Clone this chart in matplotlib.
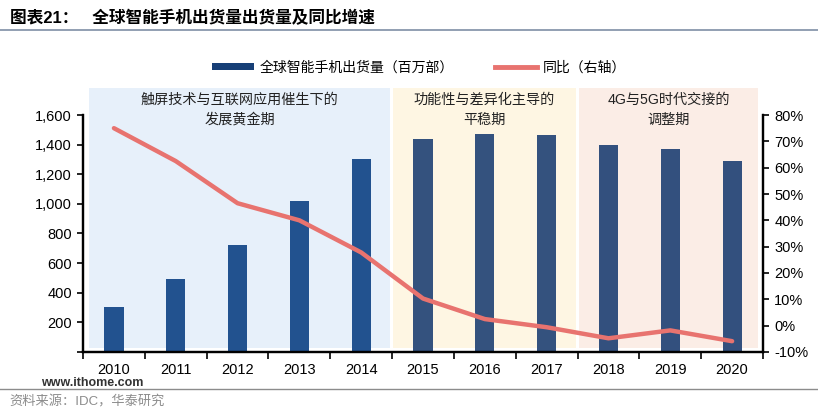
import matplotlib.pyplot as plt
from matplotlib.patches import Rectangle
from matplotlib.lines import Line2D
from matplotlib.ticker import FuncFormatter, MultipleLocator

plt.rcParams["font.family"] = ["Liberation Sans", "Noto Sans CJK SC", "DejaVu Sans"]

years = ["2010", "2011", "2012", "2013", "2014", "2015", "2016", "2017", "2018", "2019", "2020"]
shipments = [305, 494, 725, 1019, 1301, 1437, 1473, 1465, 1395, 1371, 1292]
yoy = [75.0, 62.5, 46.5, 40.0, 27.8, 10.3, 2.5, -0.6, -4.8, -1.8, -5.9]

# stage labels: (first index, last index, text, background, bar colour)
stages = [
    (0, 4, "触屏技术与互联网应用催生下的\n发展黄金期", "#E7F0FA", "#22528F"),
    (5, 7, "功能性与差异化主导的\n平稳期", "#FEF6E3", "#34527E"),
    (8, 10, "4G与5G时代交接的\n调整期", "#FBEDE6", "#33507E"),
]

bar_label = "全球智能手机出货量（百万部）"
line_label = "同比（右轴）"
title = "图表21：   全球智能手机出货量出货量及同比增速"
source = "资料来源：IDC，华泰研究"

fig = plt.figure(figsize=(8.18, 4.09), dpi=100)
ax = fig.add_axes([0.1015, 0.1394, 0.8313, 0.5794])
ax2 = ax.twinx()
ax.set_zorder(ax2.get_zorder() - 1)
ax.patch.set_visible(False)

x = list(range(len(years)))
bar_colors = []
for start, end, _, _, color in stages:
    bar_colors += [color] * (end - start + 1)

# background bands (extend above the plot area)
for start, end, text, bg, _ in stages:
    left = start - 0.41 if start == 0 else start - 0.48
    right = end + 0.47 if end < len(years) - 1 else end + 0.42
    ax.add_patch(Rectangle((left, 25), right - left, 1760, facecolor=bg,
                           edgecolor="none", clip_on=False, zorder=0))
    ax.text((left + right) / 2, 1748, text, ha="center", va="top", fontsize=10.2,
            linespacing=1.5, color="#222222", zorder=1, clip_on=False)

ax.bar(x, shipments, width=0.31, color=bar_colors, zorder=2)
ax2.plot(x, yoy, color="#E8736F", lw=3.2, solid_capstyle="round", zorder=3)

ax.set_xlim(-0.5, len(years) - 0.5)
ax.set_ylim(0, 1600)
ax.yaxis.set_major_locator(MultipleLocator(200))
ax.yaxis.set_major_formatter(FuncFormatter(lambda v, p: f"{int(v):,}" if v > 0 else ""))
ax2.set_ylim(-10, 80)
ax2.yaxis.set_major_locator(MultipleLocator(10))
ax2.yaxis.set_major_formatter(FuncFormatter(lambda v, p: f"{int(round(v))}%"))

ax.set_xticks(x)
ax.set_xticklabels(years)
ax.set_xticks([i - 0.5 for i in range(len(years) + 1)], minor=True)
ax.tick_params(axis="x", which="major", length=0, pad=8, labelsize=10.5)
ax.tick_params(axis="x", which="minor", length=5, width=1.2, direction="out")
ax.tick_params(axis="y", length=4, width=1.2, labelsize=10.5, pad=4)
ax2.tick_params(axis="y", length=4, width=1.2, labelsize=10.5, pad=4)

for a in (ax, ax2):
    a.spines["top"].set_visible(False)
    for s in ("left", "right", "bottom"):
        a.spines[s].set_linewidth(1.6)
        a.spines[s].set_color("black")

# legend
handles = [Rectangle((0, 0), 1, 1, facecolor="#173F77"),
           Line2D([], [], color="#E8736F", lw=3.5)]
fig.legend(handles, [bar_label, line_label], loc="center", bbox_to_anchor=(0.512, 0.835),
           ncol=2, frameon=False, fontsize=10, handlelength=3.0, handleheight=0.45,
           columnspacing=3.0, handletextpad=0.4)

# header and footer
fig.text(0.012, 0.957, title, fontsize=12, fontweight="bold", va="center", ha="left")
fig.add_artist(Line2D([0, 1], [0.927, 0.927], color="#7F8FA6", lw=1.2))
fig.add_artist(Line2D([0, 1], [0.049, 0.049], color="#8C8C8C", lw=1.0))
fig.text(0.012, 0.016, source, fontsize=9.5, color="#8C8C8C", va="center", ha="left")
fig.text(0.05, 0.063, "www.ithome.com", fontsize=9, fontweight="bold",
         color="#333333", va="center", ha="left")

fig.savefig("out.png", dpi=100)
